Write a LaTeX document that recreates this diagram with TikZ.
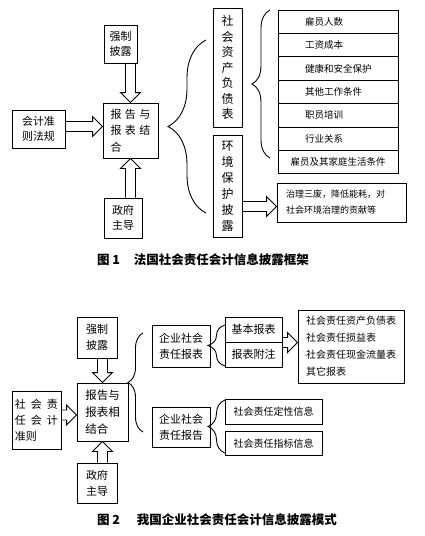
\documentclass[tikz,border=0pt]{standalone}
\usepackage{fontspec}
\setmainfont{Noto Sans CJK SC}
\usetikzlibrary{calc,decorations.pathreplacing}

\newcommand{\fs}[2]{\fontsize{#1}{#2}\selectfont}

\begin{document}
\begin{tikzpicture}[x=1pt,y=-1pt]
    \tikzset{box/.style={draw, line width=0.9pt, inner sep=0pt, align=center},
      listrow/.style={box, minimum width=120pt, minimum height=23.4pt, text width=66pt,
        inner xsep=27pt, align=left, font=\fs{9.5}{12}},
      hollow/.style={line width=0.9pt, to path={
        let \p1=(\tikztostart), \p2=(\tikztotarget),
            \n1={atan2(\y2-\y1,\x2-\x1)}, \n2={veclen(\x2-\x1,\y2-\y1)} in
        [shift={(\p1)}, rotate=\n1]
        (0pt,-5pt) -- ({\n2-10pt},-5pt) -- ({\n2-10pt},-10pt) -- (\n2,0pt)
        -- ({\n2-10pt},10pt) -- ({\n2-10pt},5pt) -- (0pt,5pt)}},
      bracel/.style={line width=0.9pt, decorate, decoration={brace, amplitude=#1}},
      caption/.style={font=\fs{12.5}{15}\bfseries}}
    \useasboundingbox (0,0) rectangle (424,536);

    % figure 1
    \node[box, minimum width=33pt, minimum height=38pt, font=\fs{11}{15}] (qz1) at (120.5,44) {强制\\披露};
    \node[box, minimum width=55pt, minimum height=55pt, font=\fs{11}{16.5}, align=left] (bg1) at (130.5,130.5)
      {报\hspace{3.5pt}告\hspace{3.5pt}与\\报\hspace{3.5pt}表\hspace{3.5pt}结\\合};
    \node[box, minimum width=53pt, minimum height=38pt, font=\fs{11}{15}] (kj1) at (38.5,129) {会计准\\则法规};
    \node[box, minimum width=38pt, minimum height=40pt, font=\fs{11}{15}] (zf1) at (123,218) {政府\\主导};

    \node[box, minimum width=29pt, minimum height=119pt, font=\fs{12}{15.5}] (sh1) at (227.5,67.5)
      {社\\会\\资\\产\\负\\债\\表};
    \node[box, minimum width=29pt, minimum height=102pt, font=\fs{12}{16}] (hj1) at (227.5,186)
      {环\\境\\保\\护\\披\\露};

    \node[listrow] (r1) at (338,21.7) {雇员人数};
    \node[listrow] (r2) at (338,45.1) {工资成本};
    \node[listrow] (r3) at (338,68.5) {健康和安全保护};
    \node[listrow] (r4) at (338,91.9) {其他工作条件};
    \node[listrow] (r5) at (338,115.3) {职员培训};
    \node[listrow] (r6) at (338,138.7) {行业关系};
    \node[listrow, text width=106pt, inner xsep=7pt, align=center] (r7) at (338,162.1) {雇员及其家庭生活条件};

    \node[box, minimum width=129pt, minimum height=39pt, text width=111pt, inner xsep=9pt,
      align=left, font=\fs{9}{16}] (hz1) at (341.5,202.5) {治理三废，降低能耗，对\\社会环境治理的贡献等};

    \draw[hollow] (bg1.north |- qz1.south) to (bg1.north);
    \draw[hollow] (bg1.south |- zf1.north) to (bg1.south);
    \coordinate (a1) at ([yshift=2.5pt]kj1.east);
    \draw[hollow] (a1) to (a1 -| bg1.west);
    \coordinate (a2) at ([yshift=-20.5pt]hj1.east);
    \draw[hollow] (a2) to (a2 -| hz1.west);

    \draw[bracel=38pt] (206,213) -- (206,40);
    \draw[bracel=18pt] (270,158) -- (270,10);

    \node[caption] (cap1) at (203,260) {图 1\hspace{14pt}法国社会责任会计信息披露框架};

    % figure 2
    \node[box, minimum width=40pt, minimum height=41pt, font=\fs{11}{16}] (qz2) at (97,337.5) {强制\\披露};
    \node[box, minimum width=51pt, minimum height=58pt, font=\fs{11.5}{17}, align=left] (bg2) at (102.5,412)
      {报告与\\报表相\\结合};
    \node[box, minimum width=49pt, minimum height=58pt, font=\fs{11}{16}, align=left] (kj2) at (36.5,420)
      {社\hspace{5pt}会\hspace{5pt}责\\任\hspace{5pt}会\hspace{5pt}计\\准则};
    \node[box, minimum width=40pt, minimum height=40pt, font=\fs{11}{16}] (zf2) at (97,483) {政府\\主导};

    \node[box, minimum width=58pt, minimum height=42pt, font=\fs{11}{16}] (bb2) at (181,346) {企业社会\\责任报表};
    \node[box, minimum width=58pt, minimum height=40pt, font=\fs{11}{16}] (bgao2) at (181,427) {企业社会\\责任报告};

    \node[box, minimum width=57pt, minimum height=25pt, font=\fs{11}{14}] (jb2) at (253.5,329.5) {基本报表};
    \node[box, minimum width=57pt, minimum height=25pt, font=\fs{11}{14}] (fz2) at (253.5,354.5) {报表附注};
    \node[box, minimum width=106pt, minimum height=73pt, font=\fs{10}{17}, align=left] (bt2) at (351,346.5)
      {社会责任资产负债表\\社会责任损益表\\社会责任现金流量表\\其它报表};
    \node[box, minimum width=97pt, minimum height=25pt, font=\fs{10}{13}] (dx2) at (273.5,411.5) {社会责任定性信息};
    \node[box, minimum width=97pt, minimum height=24pt, font=\fs{10}{13}] (zb2) at (273.5,443.5) {社会责任指标信息};

    \draw[hollow] (bg2.north |- qz2.south) to (bg2.north);
    \draw[hollow] (bg2.south |- zf2.north) to (bg2.south);
    \coordinate (a3) at ([yshift=5pt]kj2.east);
    \draw[hollow] (a3) to (a3 -| bg2.west);
    \draw[hollow] (jb2.south east) to (jb2.south east -| bt2.west);

    \draw[bracel=15pt] (143,432) -- (143,333);
    \draw[bracel=17pt] (225,366) -- (225,325);
    \draw[bracel=17pt] (225,453) -- (225,400);

    \node[caption] (cap2) at (217,520) {图 2\hspace{17pt}我国企业社会责任会计信息披露模式};
\end{tikzpicture}
\end{document}
